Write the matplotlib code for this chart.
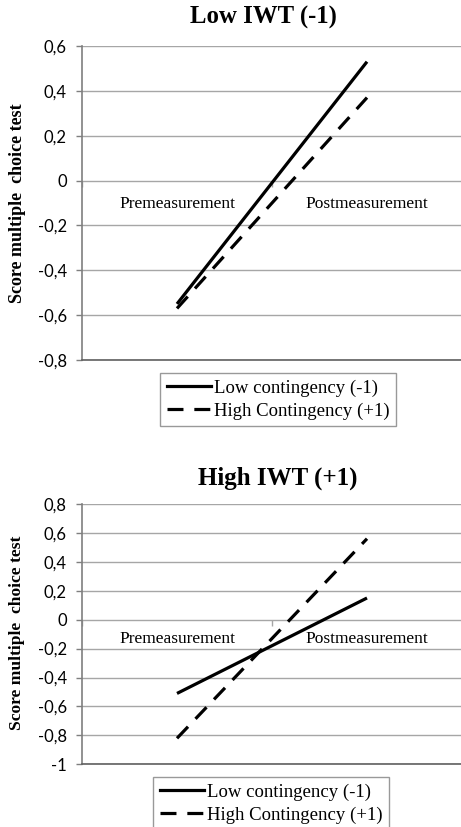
import matplotlib
matplotlib.use("Agg")
import matplotlib.pyplot as plt
from matplotlib.lines import Line2D

# ---- data ----
phases = ["Premeasurement", "Postmeasurement"]
series_names = ["Low contingency (-1)", "High Contingency (+1)"]

low_iwt_low_cont = [-0.55, 0.53]
low_iwt_high_cont = [-0.57, 0.37]
high_iwt_low_cont = [-0.51, 0.15]
high_iwt_high_cont = [-0.82, 0.56]

top_ticks = [0.6, 0.4, 0.2, 0.0, -0.2, -0.4, -0.6, -0.8]
top_tick_labels = ["0,6", "0,4", "0,2", "0", "-0,2", "-0,4", "-0,6", "-0,8"]
bot_ticks = [0.8, 0.6, 0.4, 0.2, 0.0, -0.2, -0.4, -0.6, -0.8, -1.0]
bot_tick_labels = ["0,8", "0,6", "0,4", "0,2", "0", "-0,2", "-0,4", "-0,6", "-0,8", "-1"]

titles = ["Low IWT (-1)", "High IWT (+1)"]
ylabel = "Score multiple  choice test"

W, H = 461, 827
fig = plt.figure(figsize=(W / 100, H / 100), dpi=100)
fig.patch.set_facecolor("white")

SERIF = "Liberation Serif"
SANS = ["Lato", "DejaVu Sans"]
GRID = "#a6a6a6"
SPINE = "#7f7f7f"
DASH = (5, 3.4)
LW = 2.3


def px_box(left, top, right, bottom):
    return [left / W, 1 - bottom / H, (right - left) / W, (bottom - top) / H]


def make_panel(box, low, high, ticks, labels, ylim, label_y):
    ax = fig.add_axes(box)
    x = list(range(len(phases)))
    ax.plot(x, low, color="black", lw=LW, solid_capstyle="butt")
    ax.plot(x, high, color="black", lw=LW, dashes=DASH, dash_capstyle="butt")
    ax.set_xlim(-0.5, 1.5)
    ax.set_ylim(*ylim)
    ax.set_yticks(ticks)
    ax.set_yticklabels(labels, family=SANS, fontsize=12)
    ax.tick_params(axis="y", length=4, width=1, color=SPINE, pad=7)
    ax.yaxis.grid(True, color=GRID, lw=1)
    ax.set_axisbelow(True)
    ax.spines["right"].set_visible(False)
    ax.spines["left"].set_color(SPINE)
    ax.spines["left"].set_linewidth(1.2)
    ax.spines["bottom"].set_color("#606060")
    ax.spines["bottom"].set_linewidth(1.2)
    # category axis crossing at zero with small ticks between categories
    ax.spines["top"].set_position(("data", 0))
    ax.spines["top"].set_visible(False)
    ax.xaxis.set_ticks_position("top")
    ax.set_xticks([-0.5, 0.5, 1.5])
    ax.tick_params(axis="x", direction="in", length=4, width=1, color=GRID,
                   labeltop=False, labelbottom=False, bottom=False)
    for xi, name in enumerate(phases):
        ax.text(xi, label_y, name, ha="center", va="center",
                family=SERIF, fontsize=12.5)
    return ax


ax1 = make_panel(px_box(82, 46, 462, 360), low_iwt_low_cont, low_iwt_high_cont,
                 top_ticks, top_tick_labels, (-0.8, 0.6), -0.105)
ax2 = make_panel(px_box(82, 504, 462, 764.3), high_iwt_low_cont, high_iwt_high_cont,
                 bot_ticks, bot_tick_labels, (-1.0, 0.8), -0.134)

fig.text(263 / W, 1 - 17 / H, titles[0], ha="center", va="center",
         family=SERIF, fontsize=17.8, fontweight="bold")
fig.text(278 / W, 1 - 478 / H, titles[1], ha="center", va="center",
         family=SERIF, fontsize=18, fontweight="bold")
fig.text(18 / W, 1 - 203 / H, ylabel, ha="center", va="center", rotation=90,
         family=SERIF, fontsize=13, fontweight="bold")
fig.text(17 / W, 1 - 633 / H, ylabel, ha="center", va="center", rotation=90,
         family=SERIF, fontsize=12.6, fontweight="bold")

handles = [Line2D([], [], color="black", lw=LW),
           Line2D([], [], color="black", lw=LW, dashes=DASH)]


def add_legend(cx, cy):
    leg = fig.legend(handles, series_names, loc="center",
                     bbox_to_anchor=(cx / W, 1 - cy / H),
                     prop={"family": SERIF, "size": 13.5},
                     frameon=True, fancybox=False, shadow=False,
                     handlelength=2.35, handletextpad=0.15, labelspacing=0.3,
                     borderpad=0.35, borderaxespad=0)
    fr = leg.get_frame()
    fr.set_edgecolor("#808080")
    fr.set_linewidth(1.0)
    return leg


add_legend(278, 399.5)
add_legend(271, 803.5)

fig.savefig("out.png", dpi=100, facecolor="white")
